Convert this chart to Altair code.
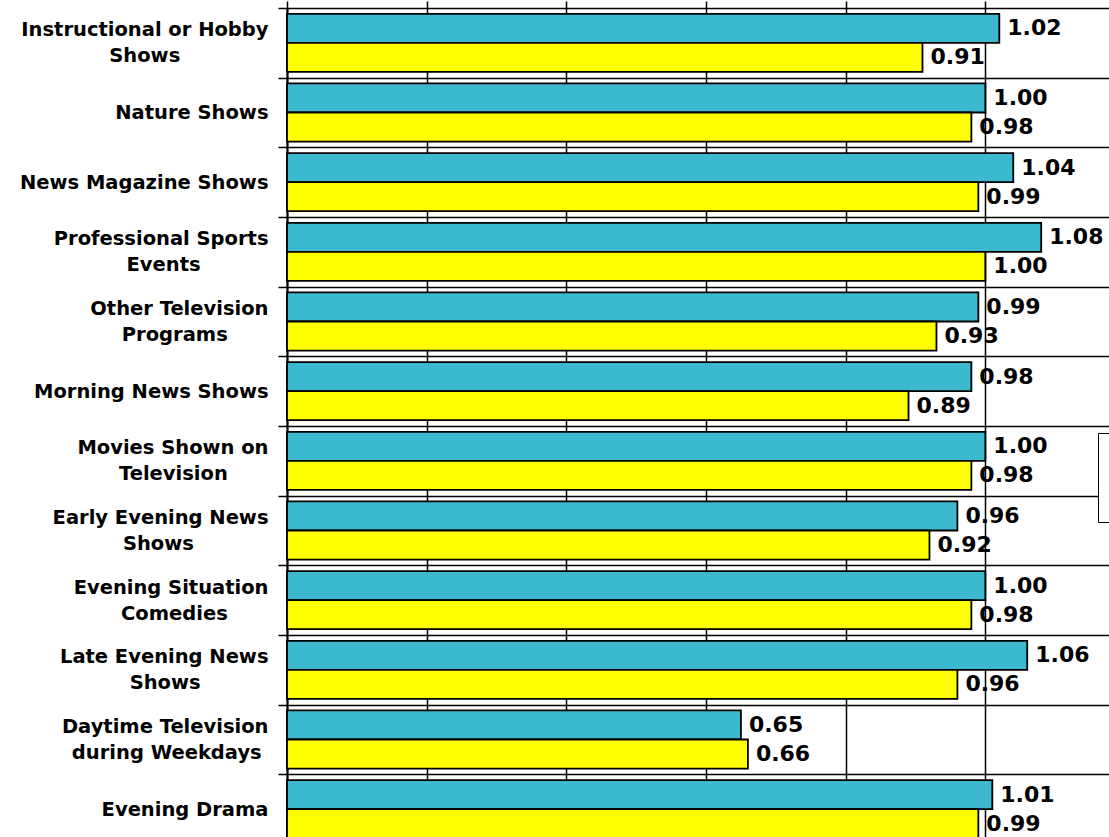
import altair as alt
import pandas as pd

# Program categories, top to bottom; each entry is the list of label lines
category_lines = [
    ["Instructional or Hobby", "Shows"],
    ["Nature Shows"],
    ["News Magazine Shows"],
    ["Professional Sports", "Events"],
    ["Other Television", "Programs"],
    ["Morning News Shows"],
    ["Movies Shown on", "Television"],
    ["Early Evening News", "Shows"],
    ["Evening Situation", "Comedies"],
    ["Late Evening News", "Shows"],
    ["Daytime Television", "during Weekdays"],
    ["Evening Drama"],
]

series_names = ["Series 1", "Series 2"]
series_colors = ["#3DB9CF", "#FFFF00"]

series_1 = [1.02, 1.00, 1.04, 1.08, 0.99, 0.98, 1.00, 0.96, 1.00, 1.06, 0.65, 1.01]
series_2 = [0.91, 0.98, 0.99, 1.00, 0.93, 0.89, 0.98, 0.92, 0.98, 0.96, 0.66, 0.99]

FONT = "DejaVu Sans"

# Approximate DejaVu Sans Bold advance widths (per 1000 em), used to centre
# the lines of a two-line axis label under each other.
GLYPH_W = {
    " ": 348, "a": 675, "b": 716, "c": 593, "d": 716, "e": 678, "f": 435,
    "g": 716, "h": 712, "i": 343, "k": 665, "l": 343, "m": 1042, "n": 712,
    "o": 687, "p": 716, "r": 493, "s": 595, "t": 478, "u": 712, "v": 652,
    "w": 924, "y": 652, "z": 582, "C": 734, "D": 830, "E": 683, "H": 837,
    "I": 372, "L": 637, "M": 995, "N": 837, "O": 850, "P": 733, "S": 720,
    "T": 682, "W": 1103,
}


def line_width(s):
    return sum(GLYPH_W.get(ch, 650) for ch in s)


def centred_label(lines):
    # right-aligned block, shorter lines padded with no-break spaces; a
    # zero-width space at the end keeps the padding from being trimmed
    widths = [line_width(l) for l in lines]
    widest = max(widths)
    padded = []
    for l, w in zip(lines, widths):
        n = round((widest - w) / 2 / GLYPH_W[" "])
        padded.append(l + ("\u00a0" * n + "\u200b" if n else ""))
    return "|".join(padded)


categories = [centred_label(lines) for lines in category_lines]

rows = []
for cat, v1, v2 in zip(categories, series_1, series_2):
    rows.append({"program": cat, "series": series_names[0], "value": v1})
    rows.append({"program": cat, "series": series_names[1], "value": v2})
df = pd.DataFrame(rows)
df["label"] = df["value"].map(lambda v: f"{v:.2f}")

x_scale = alt.Scale(domain=[0, 1.2], range=[0, 838], nice=False, zero=True)
y_scale = alt.Scale(domain=categories, range=[0, 836], paddingInner=0, paddingOuter=0)
offset_scale = alt.Scale(domain=series_names, paddingInner=0, paddingOuter=0.2)

base = alt.Chart(df).encode(
    y=alt.Y(
        "program:N",
        sort=categories,
        scale=y_scale,
        axis=alt.Axis(
            title=None,
            labelExpr="split(datum.label, '|')",
            labelFont=FONT,
            labelFontSize=19.5,
            labelFontWeight="bold",
            labelColor="black",
            labelLineHeight=26,
            labelLimit=400,
            labelPadding=10,
            labelOffset=alt.condition(
                "indexof(datum.label, '|') >= 0", alt.value(-13), alt.value(0)
            ),
            tickBand="extent",
            tickSize=9,
            tickColor="black",
            tickWidth=1.5,
            grid=True,
            gridColor="black",
            gridWidth=1.5,
            gridOpacity=1,
            domainColor="black",
            domainWidth=2,
        ),
    ),
    yOffset=alt.YOffset("series:N", sort=series_names, scale=offset_scale),
)

bars = base.mark_bar(stroke="black", strokeWidth=1.8).encode(
    x=alt.X(
        "value:Q",
        scale=x_scale,
        axis=alt.Axis(
            title=None,
            values=[0, 0.2, 0.4, 0.6, 0.8, 1.0, 1.2],
            labels=False,
            ticks=False,
            domain=False,
            grid=True,
            gridColor="black",
            gridWidth=1.5,
            gridOpacity=1,
        ),
    ),
    color=alt.Color(
        "series:N",
        sort=series_names,
        scale=alt.Scale(domain=series_names, range=series_colors),
        legend=alt.Legend(
            title=None,
            orient="none",
            legendX=811,
            legendY=425,
            fillColor="white",
            strokeColor="black",
            padding=16,
            rowPadding=10,
            labelFont=FONT,
            labelFontSize=22,
            labelFontWeight="bold",
            symbolType="square",
            symbolSize=300,
            symbolStrokeColor="black",
        ),
    ),
)

labels = base.mark_text(
    align="left",
    baseline="middle",
    dx=8,
    font=FONT,
    fontSize=22,
    fontWeight="bold",
    color="black",
).encode(
    x=alt.X("value:Q", scale=x_scale),
    text="label:N",
)

chart = (
    alt.layer(bars, labels)
    .properties(
        width=822,
        height=829,
        padding={"left": 287, "top": 8, "right": 0, "bottom": 0},
        autosize=alt.AutoSizeParams(type="none"),
        background="white",
    )
    .configure_view(stroke=None)
)

chart.save("out.html", embed_options={"renderer": "svg", "actions": False})
